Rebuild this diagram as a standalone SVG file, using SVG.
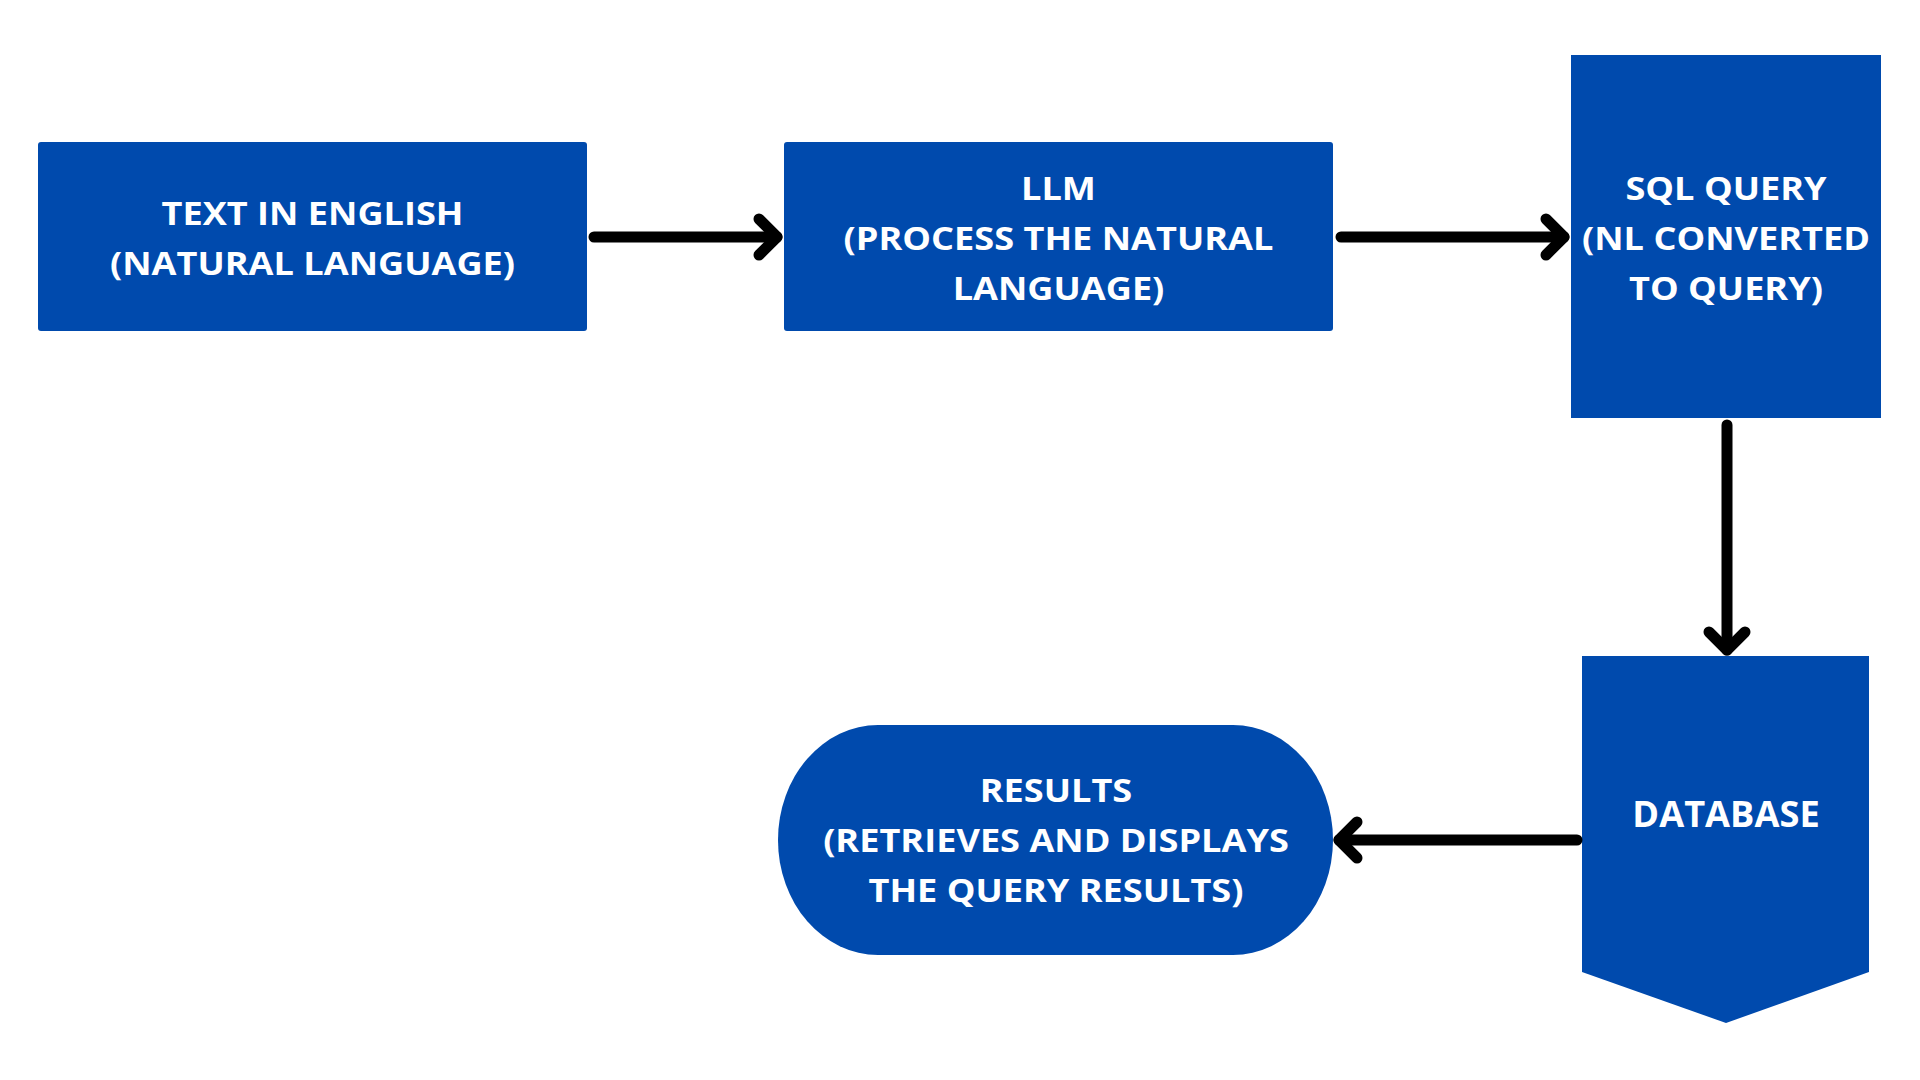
<svg xmlns="http://www.w3.org/2000/svg" width="1920" height="1080" viewBox="0 0 1920 1080">
  <style>
    .node { fill: #004aad; }
    .label { fill: #ffffff; font-family: "Open Sans", "Liberation Sans", sans-serif; font-weight: 700; font-size: 33px; text-anchor: middle; }
    .conn { stroke: #000000; stroke-width: 11; stroke-linecap: round; fill: none; }
  </style>
  <defs>
    <marker id="arrow" viewBox="-30 -30 40 60" refX="0" refY="0" markerWidth="40" markerHeight="60" markerUnits="userSpaceOnUse" orient="auto">
      <path d="M-18,-18 L0,0 L-18,18" fill="none" stroke="#000000" stroke-width="11" stroke-linecap="round" stroke-linejoin="round"/>
    </marker>
  </defs>
  <rect width="1920" height="1080" fill="#ffffff"/>

  <g id="node-text-in-english">
    <rect class="node" x="38" y="142" width="549" height="189" rx="3"/>
    <g transform="translate(312.5,0) scale(1.095,1)">
      <text class="label" x="0" y="225">TEXT IN ENGLISH</text>
      <text class="label" x="0" y="275">(NATURAL LANGUAGE)</text>
    </g>
  </g>

  <g id="node-llm">
    <rect class="node" x="784" y="142" width="549" height="189" rx="3"/>
    <g transform="translate(1058.5,0) scale(1.095,1)">
      <text class="label" x="0" y="200">LLM</text>
      <text class="label" x="0" y="250">(PROCESS THE NATURAL</text>
      <text class="label" x="0" y="300">LANGUAGE)</text>
    </g>
  </g>

  <g id="node-sql-query">
    <rect class="node" x="1571" y="55" width="310" height="363"/>
    <g transform="translate(1726,0) scale(1.095,1)">
      <text class="label" x="0" y="200">SQL QUERY</text>
      <text class="label" x="0" y="250">(NL CONVERTED</text>
      <text class="label" x="0" y="300">TO QUERY)</text>
    </g>
  </g>

  <g id="node-database">
    <polygon class="node" points="1582,656 1869,656 1869,972 1726,1023 1582,972"/>
    <g transform="translate(1726,0) scale(1.035,1)">
      <text class="label" x="0" y="827" style="font-size:35px">DATABASE</text>
    </g>
  </g>

  <g id="node-results">
    <rect class="node" x="778" y="725" width="555" height="230" rx="100" ry="115"/>
    <g transform="translate(1056,0) scale(1.095,1)">
      <text class="label" x="0" y="802">RESULTS</text>
      <text class="label" x="0" y="852">(RETRIEVES AND DISPLAYS</text>
      <text class="label" x="0" y="902">THE QUERY RESULTS)</text>
    </g>
  </g>

  <g id="connectors">
    <path class="conn" d="M594,237 L777,237" marker-end="url(#arrow)"/>
    <path class="conn" d="M1341,237 L1564,237" marker-end="url(#arrow)"/>
    <path class="conn" d="M1727,425 L1727,650" marker-end="url(#arrow)"/>
    <path class="conn" d="M1577,840 L1339,840" marker-end="url(#arrow)"/>
  </g>
</svg>
